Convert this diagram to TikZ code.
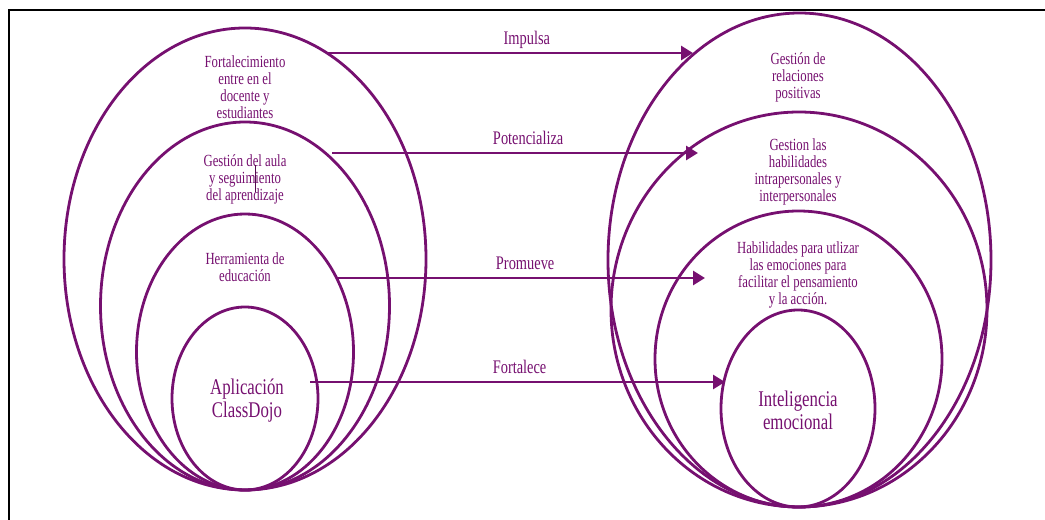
\documentclass[tikz,border=0pt]{standalone}
\usepackage{fontspec}
\setmainfont{Liberation Serif}[FakeStretch=0.75]
\usetikzlibrary{shapes.geometric,arrows.meta}
\definecolor{ciruela}{RGB}{118,16,112}

\begin{document}
\begin{tikzpicture}[x=1bp,y=-1bp,
  elipse/.style={ellipse, draw=ciruela, line width=2.8bp, inner sep=0},
  txt/.style={text=ciruela, align=center, inner sep=0, font=\fontsize{17bp}{17bp}\selectfont},
  grande/.style={txt, font=\fontsize{22.4bp}{23bp}\selectfont},
  flecha/.style={draw=ciruela, line width=2.8bp, -{Triangle[length=12bp,width=14bp]}},
  rot/.style={text=ciruela, inner sep=0, anchor=base, yshift=8bp, font=\fontsize{19.2bp}{20bp}\selectfont}]
\useasboundingbox (0,0) rectangle (1045,520);
% marco
\draw[line width=2.5bp] (9,525) -- (9,10) -- (1050,10);

% elipses
\foreach \x/\y/\w/\h/\name in {245/259/362/462/fort, 245/306/289/368/gest, 245/352/217/276/herr, 245/398.5/146/183/app,
  799.5/260/383/494/rel, 799/309.5/376/395/hab, 798.5/359/287/296/emo, 798/408.5/154/197/ie}
  \node[elipse, minimum width=\w bp, minimum height=\h bp] (\name) at (\x,\y) {};

% textos
\node[txt] (tfort) at (245,87) {Fortalecimiento\\entre en el\\docente y\\estudiantes};
\node[txt] (tgest) at (245,179) {Gestión del aula\\y seguimiento\\del aprendizaje};
\node[txt] (therr) at (245,267) {Herramienta de\\educación};
\node[grande] (tapp) at (247,401) {Aplicación\\ClassDojo};
\node[txt] (trel) at (798,77) {Gestión de\\relaciones\\positivas};
\node[txt] (thab) at (798,172) {Gestion las\\habilidades\\intrapersonales y\\interpersonales};
\node[txt] (temo) at (798,275) {Habilidades para utlizar\\las emociones para\\facilitar el pensamiento\\y la acción.};
\node[grande] (tie) at (798,410) {Inteligencia\\emocional};
\draw[ciruela!70!black, line width=0.6bp] (255,165) -- (255,192);

% flechas
\foreach \n/\y/\xa/\xb/\p/\lab in {1/53/327/693/.546/Impulsa, 2/153/332/698/.536/Potencializa,
  3/278/338/705/.51/Promueve, 4/382/310/725/.505/Fortalece}{
  \coordinate (ini\n) at (\xa,\y);
  \coordinate (fin\n) at (\xb,\y);
  \draw[flecha] (ini\n) -- node[rot, pos=\p] {\lab} (fin\n);
}
\end{tikzpicture}
\end{document}
